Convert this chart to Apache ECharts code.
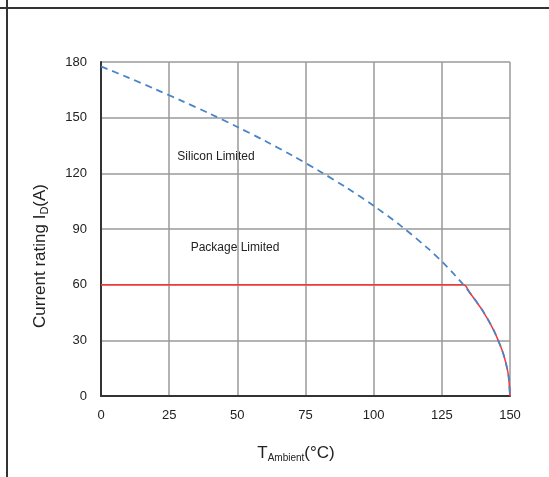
<!DOCTYPE html>
<html>
<head>
<meta charset="utf-8">
<script src="https://cdn.jsdelivr.net/npm/echarts@6/dist/echarts.min.js"></script>
<style>
  html, body { margin: 0; padding: 0; background: #fff; }
  #chart { width: 549px; height: 477px; }
</style>
</head>
<body>
<div id="chart"></div>
<script>
// values
var xTicks = [0, 25, 50, 75, 100, 125, 150];
var yTicks = [0, 30, 60, 90, 120, 150, 180];

var siliconT = [0, 10, 20, 30, 40, 50, 60, 70, 80, 90, 100, 110, 120, 125, 130, 133, 135, 140, 144, 147, 148, 149, 149.5, 150];
var siliconI = [177.6, 171.6, 165.3, 158.8, 152.1, 145, 137.6, 129.7, 121.3, 112.3, 102.5, 91.7, 79.4, 72.5, 64.8, 59.8, 56.2, 45.9, 35.5, 25.1, 20.5, 14.5, 10.3, 0];

var packageT = [0, 133, 135, 140, 144, 147, 148, 149, 149.5, 150];
var packageI = [60, 60, 56.2, 45.9, 35.5, 25.1, 20.5, 14.5, 10.3, 0];

function pairs(xs, ys) {
    return xs.map(function (x, i) { return [x, ys[i]]; });
}

var font = '"Liberation Sans", Arial, sans-serif';
var chart = echarts.init(document.getElementById('chart'));

chart.setOption({
    animation: false,
    backgroundColor: '#fff',
    grid: { left: 101, top: 62, width: 409, height: 334, containLabel: false },
    xAxis: {
        type: 'value',
        min: 0, max: 150, interval: 25,
        axisLine: { show: true, onZero: false, lineStyle: { color: '#333', width: 2 } },
        axisTick: { show: false },
        axisLabel: { color: '#222', fontSize: 13, fontFamily: font, margin: 13 },
        splitLine: { show: true, lineStyle: { color: '#9a9a9a', width: 1.5 } }
    },
    yAxis: {
        type: 'value',
        min: 0, max: 180, interval: 30,
        axisLine: { show: true, onZero: false, lineStyle: { color: '#333', width: 2 } },
        axisTick: { show: false },
        axisLabel: { color: '#222', fontSize: 13, fontFamily: font, margin: 14 },
        splitLine: { show: true, lineStyle: { color: '#9a9a9a', width: 1.5 } }
    },
    series: [
        {
            name: 'Package Limited',
            type: 'line',
            data: pairs(packageT, packageI),
            smooth: 0.3,
            showSymbol: false,
            lineStyle: { color: '#ff3333', width: 1.5 },
            z: 2
        },
        {
            name: 'Silicon Limited',
            type: 'line',
            data: pairs(siliconT, siliconI),
            smooth: 0.3,
            showSymbol: false,
            lineStyle: { color: '#4a84c8', width: 1.8, type: [7, 5] },
            z: 3
        }
    ],
    graphic: [
        { type: 'line', shape: { x1: 0, y1: 8, x2: 549, y2: 8 }, style: { stroke: '#333', lineWidth: 2 } },
        { type: 'line', shape: { x1: 7, y1: 0, x2: 7, y2: 477 }, style: { stroke: '#333', lineWidth: 2 } },
        {
            type: 'text', x: 216, y: 157,
            style: { text: 'Silicon Limited', fill: '#222', font: '12px ' + font, textAlign: 'center', textVerticalAlign: 'middle' }
        },
        {
            type: 'text', x: 235, y: 248,
            style: { text: 'Package Limited', fill: '#222', font: '12px ' + font, textAlign: 'center', textVerticalAlign: 'middle' }
        },
        {
            type: 'text', x: 40, y: 256, rotation: Math.PI / 2,
            style: {
                text: '{a|Current rating I}{s|D}{a|(A)}',
                textAlign: 'center', textVerticalAlign: 'middle',
                rich: {
                    a: { fontSize: 17, fontFamily: font, fill: '#222' },
                    s: { fontSize: 11, fontFamily: font, fill: '#222', padding: [9, 0, 0, 0] }
                }
            }
        },
        {
            type: 'text', x: 296, y: 453,
            style: {
                text: '{a|T}{s|Ambient}{a|(°C)}',
                textAlign: 'center', textVerticalAlign: 'middle',
                rich: {
                    a: { fontSize: 17, fontFamily: font, fill: '#222' },
                    s: { fontSize: 10, fontFamily: font, fill: '#222', padding: [10, 0, 0, 0] }
                }
            }
        }
    ]
});
</script>
</body>
</html>
